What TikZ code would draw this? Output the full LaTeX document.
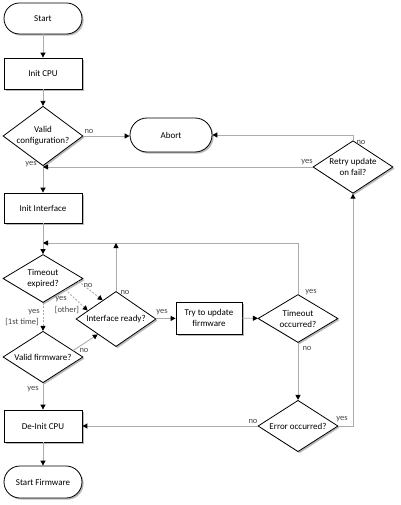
\documentclass[tikz,border=0pt]{standalone}
\usepackage{fontspec}
\setmainfont{Carlito}
\usetikzlibrary{shapes.geometric,arrows.meta,shadows,calc}
\definecolor{linegray}{RGB}{172,172,172}
\definecolor{lblgray}{RGB}{70,70,70}
\begin{document}
\begin{tikzpicture}[x=1pt,y=1pt,
  font=\fontsize{9}{11}\selectfont,
  shad/.style={drop shadow={shadow xshift=1.6pt,shadow yshift=-1.6pt,opacity=0.28,fill=black}},
  box/.style={draw=black, line width=0.8pt, fill=white, minimum width=78pt, minimum height=31pt, inner sep=2pt, align=center, shad},
  term/.style={box, rounded corners=15.5pt},
  dec/.style={diamond, draw=black, line width=0.8pt, fill=white, minimum width=80pt, minimum height=48pt, inner sep=-3pt, align=center, shad},
  conn/.style={draw=linegray, line width=0.9pt},
  arr/.style={conn, -{Triangle[length=5pt,width=5pt,color=black]}},
  dashedconn/.style={arr, dash pattern=on 2pt off 1.5pt},
  lbl/.style={font=\fontsize{8.5}{9}\selectfont, text=lblgray, inner sep=0pt},
]
\useasboundingbox (0,0) rectangle (400,-505);

% nodes
\node[term] (start) at (43,-18.5) {Start};
\node[box] (init) at (43,-73.5) {Init CPU};
\node[dec] (vc) at (43,-136) {Valid\\configuration?};
\node[term, minimum width=82pt, minimum height=34pt, rounded corners=17pt] (abort) at (171,-135) {Abort};
\node[dec] (retry) at (353,-167) {Retry update\\on fail?};
\node[box, minimum height=30pt] (ii) at (43,-208) {Init Interface};
\node[dec] (te) at (43,-278.5) {Timeout\\expired?};
\node[dec] (ir) at (116,-319) {Interface ready?};
\node[dec] (vf) at (43,-357) {Valid firmware?};
\node[box, minimum width=66pt, minimum height=32pt] (try) at (209,-318) {Try to update\\firmware};
\node[dec] (to) at (298,-318.5) {Timeout\\occurred?};
\node[dec] (err) at (298,-426) {Error occurred?};
\node[box, minimum height=32pt] (deinit) at (43,-426) {De-Init CPU};
\node[term, minimum height=32pt, rounded corners=16pt] (sf) at (43,-482) {Start Firmware};

% junction points
\coordinate (j1) at (43,-167);
\coordinate (j2) at (43,-243);
\coordinate (j3) at (116,-243);

% connectors
\draw[arr] (start) -- (init);
\draw[arr] (init) -- (vc);
\draw[arr] (vc.east) -- (vc.east -| abort.west);
\draw[arr] (vc) -- (ii);
\draw[arr] (retry.west) -- (j1);
\draw[arr] (retry.north) |- (abort.east);
\draw[arr] (ii) -- (te);
\draw[arr] (to.north) |- (j2);
\draw[arr] (ir.north) -- (j3);
\draw[dashedconn] (te.south) -- (vf.north);
\draw[dashedconn] ($(te.east)!0.12!(te.south)$) -- ($(ir.west)!0.67!(ir.north)$);
\draw[dashedconn] ($(te.east)!0.45!(te.south)$) -- ($(ir.west)!0.3!(ir.north)$);
\draw[arr] ($(vf.east)!0.25!(vf.north)$) -- ($(ir.west)!0.55!(ir.south)$);
\draw[arr] (ir) -- (try);
\draw[arr] (try) -- (to);
\draw[arr] (to) -- (err);
\draw[arr] (err) -- (deinit);
\draw[arr] (err.east) -| (retry.south);
\draw[arr] (vf) -- (deinit);
\draw[arr] (deinit) -- (sf);

% labels
\node[lbl] (l1) at (89,-131) {no};
\node[lbl] (l2) at (31,-164) {yes};
\node[lbl] (l3) at (361,-142) {no};
\node[lbl] (l4) at (307,-162) {yes};
\node[lbl] (l5) at (88,-285) {no};
\node[lbl] (l6) at (61,-299) {yes};
\node[lbl] (l7) at (67,-310) {[other]};
\node[lbl] (l8) at (34,-312) {yes};
\node[lbl] (l9) at (22,-322) {[1st time]};
\node[lbl] (l10) at (84,-350) {no};
\node[lbl] (l11) at (125,-292) {no};
\node[lbl] (l12) at (162,-312) {yes};
\node[lbl] (l13) at (311,-292) {yes};
\node[lbl] (l14) at (307,-348) {no};
\node[lbl] (l15) at (33,-389) {yes};
\node[lbl] (l16) at (253,-421) {no};
\node[lbl] (l17) at (342,-419) {yes};
\end{tikzpicture}
\end{document}
